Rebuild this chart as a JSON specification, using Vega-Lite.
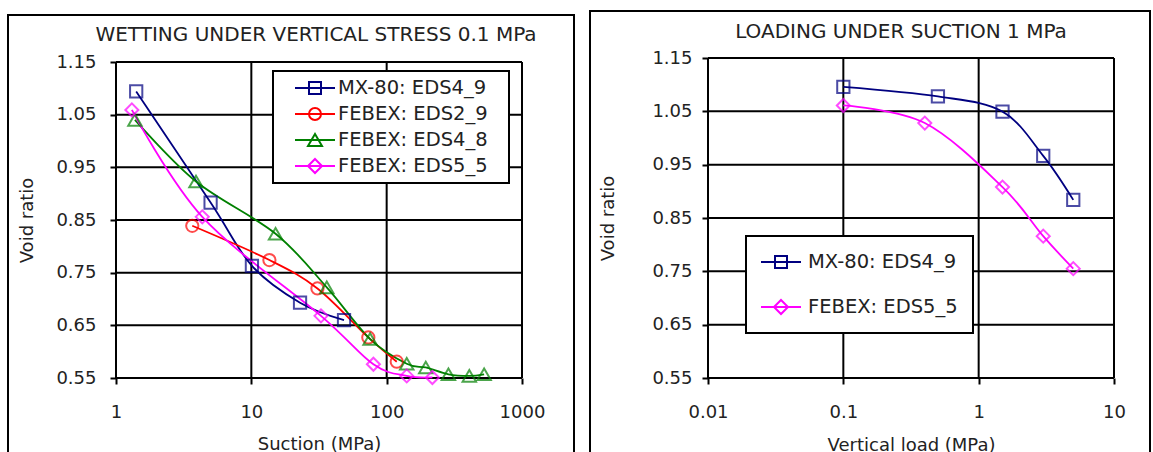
{
  "$schema": "https://vega.github.io/schema/vega-lite/v6.json",
  "padding": {"left": 7, "top": 10, "right": 0, "bottom": 0},
  "background": "white",
  "spacing": 14,
  "center": true,
  "resolve": {"scale": {"stroke": "independent"}, "legend": {"stroke": "independent"}},
  "config": {
    "view": {"stroke": "black", "strokeWidth": 2},
    "font": "DejaVu Sans",
    "axis": {
      "grid": false, "domain": false, "tickColor": "black", "tickWidth": 2, "tickSize": 6,
      "labelFont": "DejaVu Sans", "labelFontSize": 18, "labelColor": "#222",
      "titleFont": "DejaVu Sans", "titleFontSize": 18, "titleFontWeight": "normal", "titleColor": "#222",
      "labelFlush": false, "labelOverlap": false
    },
    "legend": {"labelFont": "DejaVu Sans", "labelFontSize": 19.5, "labelColor": "#222", "strokeColor": "black", "fillColor": "white", "symbolSize": 400, "symbolStrokeWidth": 2, "labelLimit": 400},
    "title": {"font": "DejaVu Sans", "fontSize": 20, "fontWeight": "normal", "color": "#222", "frame": "group", "anchor": "middle", "baseline": "alphabetic"}
  },
  "hconcat": [
    {
      "width": 566,
      "height": 442,
      "title": {"text": "WETTING UNDER VERTICAL STRESS 0.1 MPa", "offset": -30, "dx": 25},
      "data": {"values": [
        {"series": "MX-80: EDS4_9", "x": 1.41, "y": 1.094},
        {"series": "MX-80: EDS4_9", "x": 5.0, "y": 0.883},
        {"series": "MX-80: EDS4_9", "x": 10.1, "y": 0.763},
        {"series": "MX-80: EDS4_9", "x": 22.9, "y": 0.693},
        {"series": "MX-80: EDS4_9", "x": 48.4, "y": 0.660},
        {"series": "FEBEX: EDS2_9", "x": 3.66, "y": 0.839},
        {"series": "FEBEX: EDS2_9", "x": 13.6, "y": 0.774},
        {"series": "FEBEX: EDS2_9", "x": 30.8, "y": 0.720},
        {"series": "FEBEX: EDS2_9", "x": 73.2, "y": 0.627},
        {"series": "FEBEX: EDS2_9", "x": 118.7, "y": 0.581},
        {"series": "FEBEX: EDS4_8", "x": 1.38, "y": 1.040},
        {"series": "FEBEX: EDS4_8", "x": 3.9, "y": 0.923},
        {"series": "FEBEX: EDS4_8", "x": 15.1, "y": 0.824},
        {"series": "FEBEX: EDS4_8", "x": 36.1, "y": 0.722},
        {"series": "FEBEX: EDS4_8", "x": 75.4, "y": 0.624},
        {"series": "FEBEX: EDS4_8", "x": 140.7, "y": 0.577},
        {"series": "FEBEX: EDS4_8", "x": 194.5, "y": 0.570},
        {"series": "FEBEX: EDS4_8", "x": 286, "y": 0.557},
        {"series": "FEBEX: EDS4_8", "x": 408, "y": 0.554},
        {"series": "FEBEX: EDS4_8", "x": 525, "y": 0.557},
        {"series": "FEBEX: EDS5_5", "x": 1.31, "y": 1.059},
        {"series": "FEBEX: EDS5_5", "x": 4.34, "y": 0.856},
        {"series": "FEBEX: EDS5_5", "x": 32.7, "y": 0.668},
        {"series": "FEBEX: EDS5_5", "x": 79.8, "y": 0.576},
        {"series": "FEBEX: EDS5_5", "x": 140.7, "y": 0.554},
        {"series": "FEBEX: EDS5_5", "x": 217.7, "y": 0.551}
      ]},
      "layer": [
        {
          "data": {"values": [{"y": 0.55}, {"y": 0.65}, {"y": 0.75}, {"y": 0.85}, {"y": 0.95}, {"y": 1.05}, {"y": 1.15}]},
          "mark": {"type": "rule", "color": "black", "strokeWidth": 2},
          "encoding": {
            "y": {"field": "y", "type": "quantitative",
              "scale": {"domain": [0.55, 1.15], "range": [363, 47], "zero": false, "nice": false},
              "axis": {"title": "Void ratio", "values": [0.55, 0.65, 0.75, 0.85, 0.95, 1.05, 1.15], "format": ".2f", "offset": -108, "labelPadding": 14, "titlePadding": 19}},
            "x": {"datum": 1, "type": "quantitative",
              "scale": {"type": "log", "domain": [1, 1000], "range": [108, 514], "nice": false},
              "axis": {"title": "Suction (MPa)", "values": [1, 10, 100, 1000], "format": "~g", "offset": -79, "labelPadding": 19, "titlePadding": 14}},
            "x2": {"datum": 1000}
          }
        },
        {
          "data": {"values": [{"x": 1}, {"x": 10}, {"x": 100}, {"x": 1000}]},
          "mark": {"type": "rule", "color": "black", "strokeWidth": 2},
          "encoding": {
            "x": {"field": "x", "type": "quantitative", "scale": {"type": "log", "domain": [1, 1000], "range": [108, 514], "nice": false},
              "axis": {"title": "Suction (MPa)", "values": [1, 10, 100, 1000], "format": "~g", "offset": -79, "labelPadding": 19, "titlePadding": 14}},
            "y": {"datum": 0.55, "type": "quantitative", "scale": {"domain": [0.55, 1.15], "range": [363, 47], "zero": false, "nice": false},
              "axis": {"title": "Void ratio", "values": [0.55, 0.65, 0.75, 0.85, 0.95, 1.05, 1.15], "format": ".2f", "offset": -108, "labelPadding": 14, "titlePadding": 19}},
            "y2": {"datum": 1.15}
          }
        },
        {
          "mark": {"type": "line", "interpolate": "cardinal", "strokeWidth": 1.8},
          "encoding": {
            "x": {"field": "x", "type": "quantitative", "scale": {"type": "log", "domain": [1, 1000], "range": [108, 514], "nice": false},
              "axis": {"title": "Suction (MPa)", "values": [1, 10, 100, 1000], "format": "~g", "offset": -79, "labelPadding": 19, "titlePadding": 14}},
            "y": {"field": "y", "type": "quantitative", "scale": {"domain": [0.55, 1.15], "range": [363, 47], "zero": false, "nice": false},
              "axis": {"title": "Void ratio", "values": [0.55, 0.65, 0.75, 0.85, 0.95, 1.05, 1.15], "format": ".2f", "offset": -108, "labelPadding": 14, "titlePadding": 19}},
            "stroke": {"field": "series", "type": "nominal",
              "scale": {"domain": ["MX-80: EDS4_9", "FEBEX: EDS2_9", "FEBEX: EDS4_8", "FEBEX: EDS5_5"], "range": ["#000080", "#ff0000", "#008000", "#ff00ff"]},
              "legend": {"title": "\u2800", "titleOrient": "right", "titlePadding": 14, "titleFontSize": 1, "orient": "none", "legendX": 265, "legendY": 56, "padding": 6, "rowPadding": 5, "symbolOffset": 25, "labelOffset": 12, "symbolSize": 400,
                "encode": {
                  "legend": {"update": {"strokeWidth": {"value": 2}}},
                  "symbols": {"update": {
                    "fill": {"value": "transparent"},
                    "strokeWidth": {"value": 2},
                    "shape": {"signal": "datum.value === 'MX-80: EDS4_9' ? 'M-2,0H2M-0.6,-0.6H0.6V0.6H-0.6Z' : datum.value === 'FEBEX: EDS2_9' ? 'M-2,0H2M-0.6,0C-0.6,-0.3314,-0.3314,-0.6,0,-0.6C0.3314,-0.6,0.6,-0.3314,0.6,0C0.6,0.3314,0.3314,0.6,0,0.6C-0.3314,0.6,-0.6,0.3314,-0.6,0Z' : datum.value === 'FEBEX: EDS4_8' ? 'M-2,0H2M0,-0.6L0.7,0.6L-0.7,0.6Z' : 'M-2,0H2M0,-0.7L0.7,0L0,0.7L-0.7,0Z'"}
                  }}
                }}}
          }
        },
        {
          "transform": [{"filter": "datum.series === 'MX-80: EDS4_9'"}],
          "mark": {"type": "point", "shape": "square", "filled": false, "strokeWidth": 2, "size": 150, "color": "#000080"},
          "encoding": {
            "x": {"field": "x", "type": "quantitative", "scale": {"type": "log", "domain": [1, 1000], "range": [108, 514], "nice": false},
              "axis": {"title": "Suction (MPa)", "values": [1, 10, 100, 1000], "format": "~g", "offset": -79, "labelPadding": 19, "titlePadding": 14}},
            "y": {"field": "y", "type": "quantitative", "scale": {"domain": [0.55, 1.15], "range": [363, 47], "zero": false, "nice": false},
              "axis": {"title": "Void ratio", "values": [0.55, 0.65, 0.75, 0.85, 0.95, 1.05, 1.15], "format": ".2f", "offset": -108, "labelPadding": 14, "titlePadding": 19}}
          }
        },
        {
          "transform": [{"filter": "datum.series === 'FEBEX: EDS2_9'"}],
          "mark": {"type": "point", "shape": "circle", "filled": false, "strokeWidth": 2, "size": 150, "color": "#ff0000"},
          "encoding": {
            "x": {"field": "x", "type": "quantitative", "scale": {"type": "log", "domain": [1, 1000], "range": [108, 514], "nice": false},
              "axis": {"title": "Suction (MPa)", "values": [1, 10, 100, 1000], "format": "~g", "offset": -79, "labelPadding": 19, "titlePadding": 14}},
            "y": {"field": "y", "type": "quantitative", "scale": {"domain": [0.55, 1.15], "range": [363, 47], "zero": false, "nice": false},
              "axis": {"title": "Void ratio", "values": [0.55, 0.65, 0.75, 0.85, 0.95, 1.05, 1.15], "format": ".2f", "offset": -108, "labelPadding": 14, "titlePadding": 19}}
          }
        },
        {
          "transform": [{"filter": "datum.series === 'FEBEX: EDS4_8'"}],
          "mark": {"type": "point", "shape": "triangle-up", "filled": false, "strokeWidth": 2, "size": 180, "color": "#008000"},
          "encoding": {
            "x": {"field": "x", "type": "quantitative", "scale": {"type": "log", "domain": [1, 1000], "range": [108, 514], "nice": false},
              "axis": {"title": "Suction (MPa)", "values": [1, 10, 100, 1000], "format": "~g", "offset": -79, "labelPadding": 19, "titlePadding": 14}},
            "y": {"field": "y", "type": "quantitative", "scale": {"domain": [0.55, 1.15], "range": [363, 47], "zero": false, "nice": false},
              "axis": {"title": "Void ratio", "values": [0.55, 0.65, 0.75, 0.85, 0.95, 1.05, 1.15], "format": ".2f", "offset": -108, "labelPadding": 14, "titlePadding": 19}}
          }
        },
        {
          "transform": [{"filter": "datum.series === 'FEBEX: EDS5_5'"}],
          "mark": {"type": "point", "shape": "diamond", "filled": false, "strokeWidth": 2, "size": 170, "color": "#ff00ff"},
          "encoding": {
            "x": {"field": "x", "type": "quantitative", "scale": {"type": "log", "domain": [1, 1000], "range": [108, 514], "nice": false},
              "axis": {"title": "Suction (MPa)", "values": [1, 10, 100, 1000], "format": "~g", "offset": -79, "labelPadding": 19, "titlePadding": 14}},
            "y": {"field": "y", "type": "quantitative", "scale": {"domain": [0.55, 1.15], "range": [363, 47], "zero": false, "nice": false},
              "axis": {"title": "Void ratio", "values": [0.55, 0.65, 0.75, 0.85, 0.95, 1.05, 1.15], "format": ".2f", "offset": -108, "labelPadding": 14, "titlePadding": 19}}
          }
        }
      ]
    },
    {
      "width": 560,
      "height": 450,
      "title": {"text": "LOADING UNDER SUCTION 1 MPa", "offset": -31, "dx": 31},
      "data": {"values": [
        {"series": "MX-80: EDS4_9", "x": 0.1, "y": 1.096},
        {"series": "MX-80: EDS4_9", "x": 0.5, "y": 1.078},
        {"series": "MX-80: EDS4_9", "x": 1.5, "y": 1.0495},
        {"series": "MX-80: EDS4_9", "x": 3.0, "y": 0.9665},
        {"series": "MX-80: EDS4_9", "x": 5.0, "y": 0.884},
        {"series": "FEBEX: EDS5_5", "x": 0.1, "y": 1.061},
        {"series": "FEBEX: EDS5_5", "x": 0.4, "y": 1.028},
        {"series": "FEBEX: EDS5_5", "x": 1.5, "y": 0.908},
        {"series": "FEBEX: EDS5_5", "x": 3.0, "y": 0.816},
        {"series": "FEBEX: EDS5_5", "x": 5.0, "y": 0.755}
      ]},
      "layer": [
        {
          "data": {"values": [{"y": 0.55}, {"y": 0.65}, {"y": 0.75}, {"y": 0.85}, {"y": 0.95}, {"y": 1.05}, {"y": 1.15}]},
          "mark": {"type": "rule", "color": "black", "strokeWidth": 2},
          "encoding": {
            "y": {"field": "y", "type": "quantitative",
              "scale": {"domain": [0.55, 1.15], "range": [367, 47], "zero": false, "nice": false},
              "axis": {"title": "Void ratio", "values": [0.55, 0.65, 0.75, 0.85, 0.95, 1.05, 1.15], "format": ".2f", "offset": -118, "labelPadding": 10, "titlePadding": 34}},
            "x": {"datum": 0.01, "type": "quantitative",
              "scale": {"type": "log", "domain": [0.01, 10], "range": [118, 524], "nice": false},
              "axis": {"title": "Vertical load (MPa)", "values": [0.01, 0.1, 1, 10], "format": "~g", "offset": -83, "labelPadding": 19, "titlePadding": 15}},
            "x2": {"datum": 10}
          }
        },
        {
          "data": {"values": [{"x": 0.01}, {"x": 0.1}, {"x": 1}, {"x": 10}]},
          "mark": {"type": "rule", "color": "black", "strokeWidth": 2},
          "encoding": {
            "x": {"field": "x", "type": "quantitative", "scale": {"type": "log", "domain": [0.01, 10], "range": [118, 524], "nice": false},
              "axis": {"title": "Vertical load (MPa)", "values": [0.01, 0.1, 1, 10], "format": "~g", "offset": -83, "labelPadding": 19, "titlePadding": 15}},
            "y": {"datum": 0.55, "type": "quantitative", "scale": {"domain": [0.55, 1.15], "range": [367, 47], "zero": false, "nice": false},
              "axis": {"title": "Void ratio", "values": [0.55, 0.65, 0.75, 0.85, 0.95, 1.05, 1.15], "format": ".2f", "offset": -118, "labelPadding": 10, "titlePadding": 34}},
            "y2": {"datum": 1.15}
          }
        },
        {
          "mark": {"type": "line", "interpolate": "cardinal", "strokeWidth": 1.8},
          "encoding": {
            "x": {"field": "x", "type": "quantitative", "scale": {"type": "log", "domain": [0.01, 10], "range": [118, 524], "nice": false},
              "axis": {"title": "Vertical load (MPa)", "values": [0.01, 0.1, 1, 10], "format": "~g", "offset": -83, "labelPadding": 19, "titlePadding": 15}},
            "y": {"field": "y", "type": "quantitative", "scale": {"domain": [0.55, 1.15], "range": [367, 47], "zero": false, "nice": false},
              "axis": {"title": "Void ratio", "values": [0.55, 0.65, 0.75, 0.85, 0.95, 1.05, 1.15], "format": ".2f", "offset": -118, "labelPadding": 10, "titlePadding": 34}},
            "stroke": {"field": "series", "type": "nominal",
              "scale": {"domain": ["MX-80: EDS4_9", "FEBEX: EDS5_5"], "range": ["#000080", "#ff00ff"]},
              "legend": {"title": null, "orient": "none", "legendX": 156, "legendY": 225, "padding": 15, "rowPadding": 24, "symbolOffset": 9, "labelOffset": 16, "symbolSize": 400,
                "encode": {
                  "legend": {"update": {"strokeWidth": {"value": 2}}},
                  "symbols": {"update": {
                    "fill": {"value": "transparent"},
                    "strokeWidth": {"value": 2},
                    "shape": {"signal": "datum.value === 'MX-80: EDS4_9' ? 'M-2,0H2M-0.6,-0.6H0.6V0.6H-0.6Z' : 'M-2,0H2M0,-0.7L0.7,0L0,0.7L-0.7,0Z'"}
                  }}
                }}}
          }
        },
        {
          "transform": [{"filter": "datum.series === 'MX-80: EDS4_9'"}],
          "mark": {"type": "point", "shape": "square", "filled": false, "strokeWidth": 2, "size": 150, "color": "#000080"},
          "encoding": {
            "x": {"field": "x", "type": "quantitative", "scale": {"type": "log", "domain": [0.01, 10], "range": [118, 524], "nice": false},
              "axis": {"title": "Vertical load (MPa)", "values": [0.01, 0.1, 1, 10], "format": "~g", "offset": -83, "labelPadding": 19, "titlePadding": 15}},
            "y": {"field": "y", "type": "quantitative", "scale": {"domain": [0.55, 1.15], "range": [367, 47], "zero": false, "nice": false},
              "axis": {"title": "Void ratio", "values": [0.55, 0.65, 0.75, 0.85, 0.95, 1.05, 1.15], "format": ".2f", "offset": -118, "labelPadding": 10, "titlePadding": 34}}
          }
        },
        {
          "transform": [{"filter": "datum.series === 'FEBEX: EDS5_5'"}],
          "mark": {"type": "point", "shape": "diamond", "filled": false, "strokeWidth": 2, "size": 170, "color": "#ff00ff"},
          "encoding": {
            "x": {"field": "x", "type": "quantitative", "scale": {"type": "log", "domain": [0.01, 10], "range": [118, 524], "nice": false},
              "axis": {"title": "Vertical load (MPa)", "values": [0.01, 0.1, 1, 10], "format": "~g", "offset": -83, "labelPadding": 19, "titlePadding": 15}},
            "y": {"field": "y", "type": "quantitative", "scale": {"domain": [0.55, 1.15], "range": [367, 47], "zero": false, "nice": false},
              "axis": {"title": "Void ratio", "values": [0.55, 0.65, 0.75, 0.85, 0.95, 1.05, 1.15], "format": ".2f", "offset": -118, "labelPadding": 10, "titlePadding": 34}}
          }
        }
      ]
    }
  ]
}
